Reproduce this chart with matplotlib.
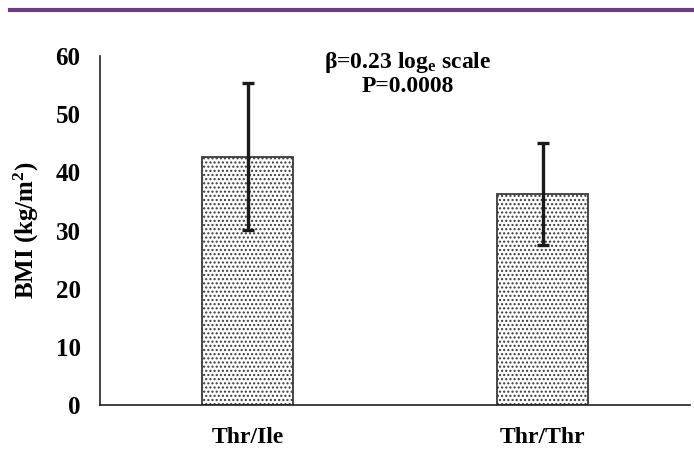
import matplotlib
matplotlib.use("Agg")
import matplotlib.pyplot as plt
from matplotlib.lines import Line2D

plt.rcParams['font.family'] = ['Liberation Serif', 'DejaVu Serif']
plt.rcParams['mathtext.fontset'] = 'custom'
plt.rcParams['mathtext.rm'] = 'Liberation Serif:bold'
plt.rcParams['mathtext.bf'] = 'Liberation Serif:bold'
plt.rcParams['mathtext.it'] = 'Liberation Serif:bold'
plt.rcParams['hatch.color'] = '#6a6a6a'
plt.rcParams['hatch.linewidth'] = 1.0

categories = ['Thr/Ile', 'Thr/Thr']
bmi_mean = [42.7, 36.3]
bmi_sd = [12.6, 8.8]
yticks = [0, 10, 20, 30, 40, 50, 60]

fig = plt.figure(figsize=(6.94, 4.75), dpi=100)
ax = fig.add_axes([100/694, 1-405/475, 590/694, (405-56)/475])

x = list(range(len(categories)))
ax.bar(x, bmi_mean, width=0.311, color='white', edgecolor='#3a3a3a',
       linewidth=1.3, hatch='....', zorder=2)
ax.errorbar(x, bmi_mean, yerr=bmi_sd, fmt='none', ecolor='#1a1a1a',
            elinewidth=2.4, capsize=4.5, capthick=2.4, zorder=3)

ax.set_xlim(-0.5, 1.5)
ax.set_ylim(0, 60)
ax.set_yticks(yticks)
ax.set_yticklabels([str(t) for t in yticks], fontsize=18, fontweight='bold')
ax.set_xticks(x)
ax.set_xticklabels(categories, fontsize=17, fontweight='bold')
ax.tick_params(axis='y', length=0, pad=14)
ax.tick_params(axis='x', length=0, pad=16)
for s in ['top', 'right']:
    ax.spines[s].set_visible(False)
for s in ['left', 'bottom']:
    ax.spines[s].set_color('#222222')
    ax.spines[s].set_linewidth(1.2)

ax.set_ylabel('BMI (kg/m$^\\mathbf{2}$)', fontsize=18, fontweight='bold')
ax.yaxis.set_label_coords((41 - 100) / 590, 0.5)

ax.text(0.522, 0.982, 'β=0.23 log$_\\mathbf{e}$ scale', transform=ax.transAxes,
        ha='center', va='center', fontsize=17, fontweight='bold')
ax.text(0.522, 0.913, 'P=0.0008', transform=ax.transAxes,
        ha='center', va='center', fontsize=17, fontweight='bold')

fig.add_artist(Line2D([10/694, 1.0], [1-10/475, 1-10/475], transform=fig.transFigure,
                      color='#6b3e80', linewidth=3))

fig.savefig('out.png', dpi=100)
